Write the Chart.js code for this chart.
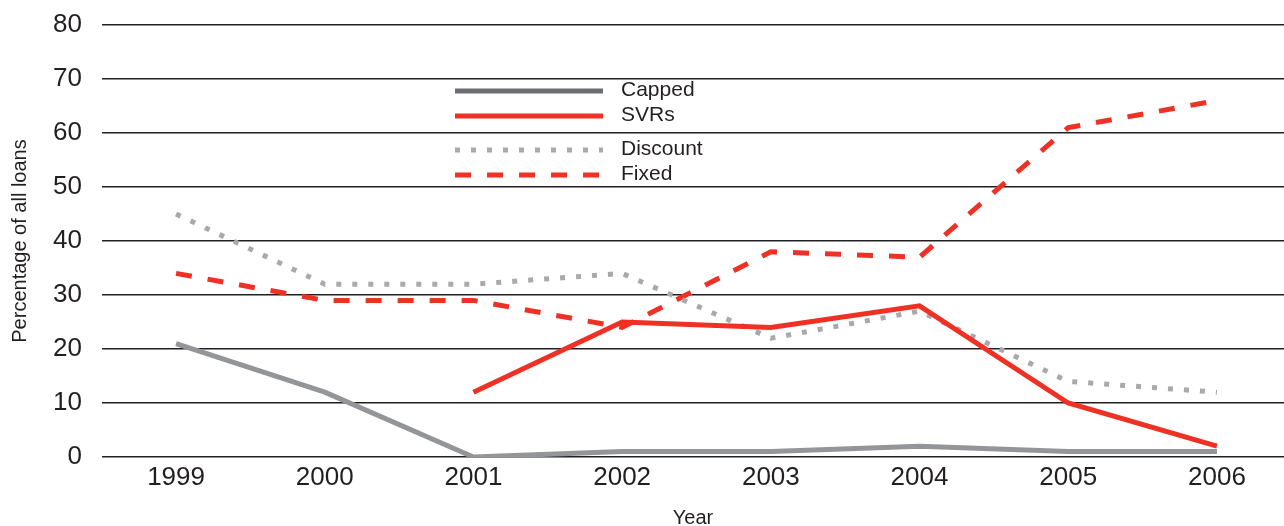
<!DOCTYPE html>
<html>
<head>
<meta charset="utf-8">
<script src="https://cdn.jsdelivr.net/npm/chart.js@4"></script>
<style>
  html, body { margin: 0; padding: 0; background: #fff; }
  #wrap { width: 1284px; height: 526px; }
</style>
</head>
<body>
<div id="wrap"><canvas id="loans"></canvas></div>
<script>
const years = [1999, 2000, 2001, 2002, 2003, 2004, 2005, 2006];
const capped = [21, 12, 0, 1, 1, 2, 1, 1];
const svrs = [null, null, 12, 25, 24, 28, 10, 2];
const discount = [45, 32, 32, 34, 22, 27, 14, 12];
const fixed = [34, 29, 29, 24, 38, 37, 61, 66];
const yTicks = [0, 10, 20, 30, 40, 50, 60, 70, 80];

const GREY = "#939598";
const RED = "#ee3124";
const DOT = "#a7a9ac";
const FONT = "'Liberation Sans', Arial, Helvetica, sans-serif";

// pair values with years, skip the gaps
function pts(values) {
  return years.map((y, i) => ({ x: y, y: values[i] })).filter(p => p.y != null);
}

// legend entries (drawn by hand to get the dash styles right)
const legendItems = [
  { label: "Capped", color: "#6d6e71", dash: [], y: 91 },
  { label: "SVRs", color: RED, dash: [], y: 116 },
  { label: "Discount", color: DOT, dash: [5, 11], y: 150 },
  { label: "Fixed", color: RED, dash: [16, 16], y: 175 }
];

const legendPlugin = {
  id: "boxLegend",
  afterDraw(chart) {
    const c = chart.ctx;
    c.save();
    legendItems.forEach(it => {
      c.beginPath();
      c.setLineDash(it.dash);
      c.lineWidth = 5;
      c.strokeStyle = it.color;
      c.lineCap = "butt";
      c.moveTo(455, it.y);
      c.lineTo(603, it.y);
      c.stroke();
      c.setLineDash([]);
      c.fillStyle = "#231f20";
      c.font = "21px " + FONT;
      c.textBaseline = "middle";
      c.fillText(it.label, 621, it.y - 1);
    });
    c.restore();
  }
};

new Chart(document.getElementById("loans"), {
  type: "line",
  data: {
    datasets: [
      { label: "Capped", data: pts(capped), borderColor: GREY, borderWidth: 5 },
      { label: "SVRs", data: pts(svrs), borderColor: RED, borderWidth: 5 },
      { label: "Discount", data: pts(discount), borderColor: DOT, borderWidth: 5, borderDash: [5, 11] },
      { label: "Fixed", data: pts(fixed), borderColor: RED, borderWidth: 5, borderDash: [16, 16] }
    ]
  },
  options: {
    responsive: true,
    maintainAspectRatio: false,
    animation: false,
    elements: { point: { radius: 0 }, line: { tension: 0, borderCapStyle: "butt" } },
    layout: { padding: { top: 25, right: 0, left: 0, bottom: 0 } },
    plugins: { legend: { display: false }, tooltip: { enabled: false } },
    scales: {
      x: {
        type: "linear",
        min: 1998.502,
        max: 2006.451,
        afterFit: s => { s.height = 69; s.paddingLeft = 0; s.paddingRight = 0; },
        afterBuildTicks: s => { s.ticks = years.map(v => ({ value: v })); },
        grid: { display: false, drawTicks: false },
        border: { display: false },
        ticks: {
          padding: 5,
          color: "#231f20",
          font: { family: FONT, size: 26 },
          callback: v => String(v)
        },
        title: {
          display: true,
          text: "Year",
          color: "#231f20",
          font: { family: FONT, size: 20 },
          padding: { top: 16, bottom: -4 }
        }
      },
      y: {
        min: 0,
        max: 80,
        afterFit: s => { s.width = 102; s.paddingTop = 0; s.paddingBottom = 0; },
        afterBuildTicks: s => { s.ticks = yTicks.map(v => ({ value: v })); },
        grid: { color: "#231f20", lineWidth: 1.5, drawTicks: false },
        border: { display: false },
        ticks: {
          padding: 20,
          color: "#231f20",
          font: { family: FONT, size: 26 }
        },
        title: {
          display: true,
          text: "Percentage of all loans",
          color: "#231f20",
          font: { family: FONT, size: 20 },
          padding: { top: 8, bottom: 0 }
        }
      }
    }
  },
  plugins: [legendPlugin]
});
</script>
</body>
</html>
